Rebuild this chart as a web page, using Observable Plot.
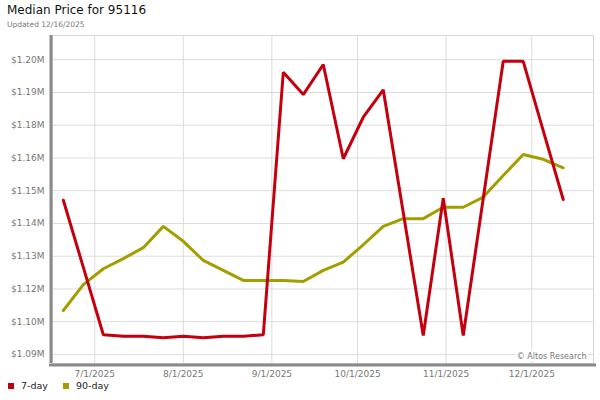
<!DOCTYPE html>
<html>
<head>
<meta charset="utf-8">
<script src="https://cdn.jsdelivr.net/npm/d3@7"></script>
<script src="https://cdn.jsdelivr.net/npm/@observablehq/plot@0.6"></script>
<style>
  html, body { margin: 0; padding: 0; background: #fff; }
  body { font-family: "DejaVu Sans", Verdana, sans-serif; }
  #wrap { position: relative; width: 600px; height: 400px; overflow: hidden; }
  #title { position: absolute; left: 7px; top: 3px; font-size: 12px; color: #111; white-space: nowrap; }
  #subtitle { position: absolute; left: 7px; top: 20px; font-size: 7.5px; color: #777; white-space: nowrap; }
  #chart { position: absolute; left: 0; top: 30px; }
  #legend { position: absolute; left: 8px; top: 380px; font-size: 9.5px; color: #222; display: flex; align-items: center; white-space: nowrap; }
  .sw { display: inline-block; width: 6px; height: 6px; margin-right: 7px; }
  .item { display: inline-flex; align-items: center; margin-right: 15px; }
</style>
</head>
<body>
<div id="wrap">
  <div id="title">Median Price for 95116</div>
  <div id="subtitle">Updated 12/16/2025</div>
  <div id="chart"></div>
  <div id="legend"></div>
</div>
<script>
// ---- data (values in $ millions) ----
const dates = ["2025-06-20","2025-06-27","2025-07-04","2025-07-11","2025-07-18","2025-07-25",
  "2025-08-01","2025-08-08","2025-08-15","2025-08-22","2025-08-29","2025-09-05","2025-09-12",
  "2025-09-19","2025-09-26","2025-10-03","2025-10-10","2025-10-17","2025-10-24","2025-10-31",
  "2025-11-07","2025-11-14","2025-11-21","2025-11-28","2025-12-05","2025-12-12"];
const sevenDay = [1.1484, 1.1232, 1.0979, 1.0973, 1.0973, 1.0968, 1.0973, 1.0968, 1.0973, 1.0973,
  1.0979, 1.1965, 1.1881, 1.1994, 1.1640, 1.1796, 1.1899, 1.1438, 1.0976, 1.1492,
  1.0976, 1.1491, 1.2006, 1.2006, 1.1746, 1.1487];
const ninetyDay = [1.1070, 1.1167, 1.1227, 1.1265, 1.1306, 1.1386, 1.1330, 1.1258, 1.1221, 1.1183,
  1.1183, 1.1183, 1.1179, 1.1221, 1.1252, 1.1317, 1.1386, 1.1415, 1.1415, 1.1458,
  1.1458, 1.1496, 1.1577, 1.1656, 1.1638, 1.1606];
const seriesNames = ["7-day", "90-day"];
const seriesColors = ["#c4000f", "#a39e00"];
const yTicks = [1.0905, 1.1028, 1.1151, 1.1274, 1.1397, 1.1520, 1.1643, 1.1766, 1.1889, 1.2012];
const xTicks = ["2025-07-01","2025-08-01","2025-09-01","2025-10-01","2025-11-01","2025-12-01"];
const yDomain = [1.0871, 1.2103];
const xDomain = ["2025-06-16T04:50:00Z", "2025-12-22T14:30:00Z"];
const credit = "© Altos Research";

const parse = s => new Date(s.length === 10 ? s + "T00:00:00Z" : s);
const rows = dates.map((d, i) => ({date: parse(d), value: sevenDay[i], series: seriesNames[0]}));
const rows90 = dates.map((d, i) => ({date: parse(d), value: ninetyDay[i], series: seriesNames[1]}));

const xd = xDomain.map(parse);
const xt = xTicks.map(parse);

const chart = Plot.plot({
  width: 600,
  height: 350,
  marginTop: 5,
  marginBottom: 17,
  marginLeft: 52,
  marginRight: 7,
  style: {fontFamily: "DejaVu Sans, Verdana, sans-serif", fontSize: "9px", color: "#777", background: "#fff"},
  x: {type: "utc", domain: xd, label: null},
  y: {domain: yDomain, label: null},
  marks: [
    Plot.gridY(yTicks, {stroke: "#dcdcdc", strokeOpacity: 1}),
    Plot.gridX(xt, {stroke: "#dcdcdc", strokeOpacity: 1}),
    Plot.frame({stroke: "#d6d6d6"}),
    Plot.axisY(yTicks, {tickSize: 0, tickPadding: 8, fill: "#777", fontSize: 9,
      tickFormat: d => "$" + d.toFixed(2) + "M"}),
    Plot.axisX(xt, {tickSize: 0, tickPadding: 7, fill: "#777", fontSize: 9,
      tickFormat: d => (d.getUTCMonth() + 1) + "/" + d.getUTCDate() + "/" + d.getUTCFullYear()}),
    Plot.text([credit], {frameAnchor: "bottom-right", text: d => d, dx: -7, dy: -5,
      lineAnchor: "bottom", fill: "#777", fontSize: 8, stroke: "white", strokeWidth: 4, paintOrder: "stroke"}),
    Plot.lineY(rows90, {x: "date", y: "value", stroke: seriesColors[1], strokeWidth: 3, strokeLinejoin: "miter"}),
    Plot.lineY(rows, {x: "date", y: "value", stroke: seriesColors[0], strokeWidth: 3, strokeLinejoin: "miter"}),
    Plot.ruleX([xd[0]], {stroke: "#8a8a8a", strokeWidth: 3, dx: -1.5}),
    Plot.ruleY([yDomain[0]], {stroke: "#8a8a8a", strokeWidth: 3, dy: 1.5, insetLeft: -3, insetRight: -3})
  ]
});
document.getElementById("chart").appendChild(chart);

const legend = document.getElementById("legend");
seriesNames.forEach((name, i) => {
  const item = document.createElement("span");
  item.className = "item";
  const sw = document.createElement("span");
  sw.className = "sw";
  sw.style.background = seriesColors[i];
  item.appendChild(sw);
  item.appendChild(document.createTextNode(name));
  legend.appendChild(item);
});
</script>
</body>
</html>
